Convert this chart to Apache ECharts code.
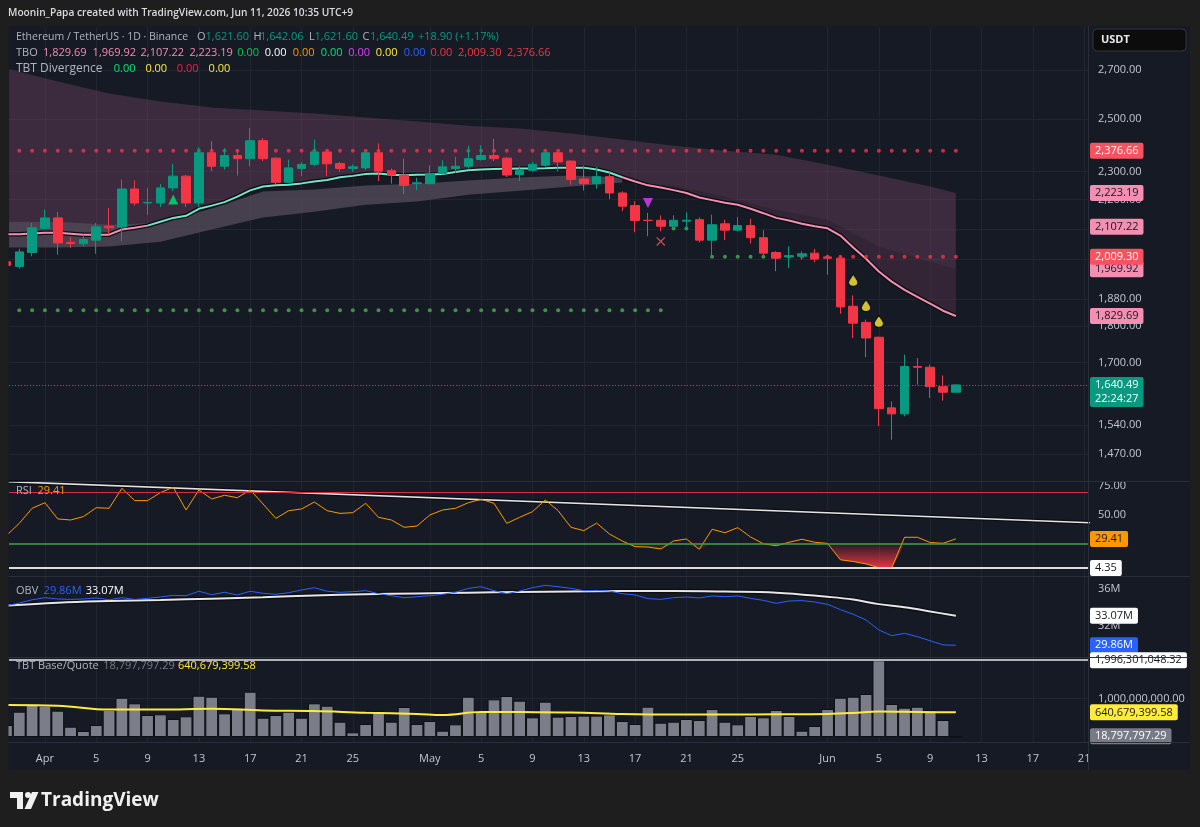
<!DOCTYPE html>
<html>
<head>
<meta charset="utf-8">
<title>ETHUSDT 1D</title>
<script src="https://cdn.jsdelivr.net/npm/echarts@6/dist/echarts.min.js"></script>
<style>
html, body { margin: 0; padding: 0; background: #1e1e1e; }
#wrap { position: relative; width: 1200px; height: 827px; background: #1e1e1e; }
#panel { position: absolute; left: 8px; top: 26px; width: 1182px; height: 744px; background: #161a25; }
#chart { position: absolute; left: 0; top: 0; width: 1200px; height: 827px; }
</style>
</head>
<body>
<div id="wrap">
  <div id="panel"></div>
  <div id="chart"></div>
</div>
<script>
// ---- data ----
// daily candles: [date, open, close, low, high]
const candles = [
  ['03-29', 1994, 1982, 1978, 1997],
  ['03-30', 1979, 2025, 1972, 2035],
  ['03-31', 2023, 2104, 2011, 2120],
  ['04-01', 2102, 2137, 2098, 2165],
  ['04-02', 2137, 2054, 2016, 2157],
  ['04-03', 2056, 2052, 2038, 2074],
  ['04-04', 2051, 2065, 2043, 2081],
  ['04-05', 2063, 2107, 2019, 2120],
  ['04-06', 2109, 2104, 2081, 2171],
  ['04-07', 2106, 2237, 2060, 2271],
  ['04-08', 2237, 2188, 2179, 2268],
  ['04-09', 2188, 2190, 2148, 2241],
  ['04-10', 2188, 2241, 2174, 2255],
  ['04-11', 2241, 2283, 2229, 2328],
  ['04-12', 2283, 2188, 2174, 2288],
  ['04-13', 2188, 2369, 2174, 2391],
  ['04-14', 2369, 2319, 2301, 2413],
  ['04-15', 2319, 2359, 2307, 2387],
  ['04-16', 2359, 2347, 2285, 2381],
  ['04-17', 2347, 2415, 2319, 2464],
  ['04-18', 2415, 2347, 2338, 2425],
  ['04-19', 2349, 2261, 2253, 2352],
  ['04-20', 2261, 2313, 2259, 2344],
  ['04-21', 2311, 2326, 2283, 2335],
  ['04-22', 2326, 2372, 2319, 2419],
  ['04-23', 2372, 2328, 2283, 2381],
  ['04-24', 2329, 2311, 2299, 2335],
  ['04-25', 2311, 2317, 2299, 2326],
  ['04-26', 2313, 2369, 2304, 2375],
  ['04-27', 2369, 2301, 2265, 2404],
  ['04-28', 2303, 2287, 2256, 2311],
  ['04-29', 2287, 2250, 2219, 2347],
  ['04-30', 2256, 2259, 2233, 2277],
  ['05-01', 2256, 2293, 2253, 2323],
  ['05-02', 2293, 2317, 2289, 2341],
  ['05-03', 2311, 2319, 2295, 2354],
  ['05-04', 2319, 2347, 2310, 2396],
  ['05-05', 2344, 2359, 2340, 2397],
  ['05-06', 2359, 2347, 2338, 2422],
  ['05-07', 2349, 2287, 2280, 2354],
  ['05-08', 2289, 2303, 2265, 2319],
  ['05-09', 2304, 2326, 2299, 2335],
  ['05-10', 2323, 2369, 2313, 2372],
  ['05-11', 2369, 2335, 2301, 2372],
  ['05-12', 2338, 2271, 2253, 2341],
  ['05-13', 2273, 2256, 2232, 2322],
  ['05-14', 2256, 2281, 2238, 2317],
  ['05-15', 2281, 2223, 2202, 2297],
  ['05-16', 2223, 2177, 2160, 2229],
  ['05-17', 2179, 2128, 2089, 2194],
  ['05-18', 2129, 2128, 2076, 2154],
  ['05-19', 2129, 2109, 2092, 2145],
  ['05-20', 2109, 2129, 2098, 2146],
  ['05-21', 2126, 2129, 2098, 2156],
  ['05-22', 2131, 2063, 2056, 2139],
  ['05-23', 2063, 2114, 2009.3, 2148],
  ['05-24', 2117, 2096, 2063, 2131],
  ['05-25', 2096, 2111, 2092, 2140],
  ['05-26', 2111, 2071, 2052, 2134],
  ['05-27', 2071, 2021, 2013, 2096],
  ['05-28', 2023, 2005, 1964, 2027],
  ['05-29', 2009, 2013, 1974, 2043],
  ['05-30', 2011, 2019, 2000, 2027],
  ['05-31', 2021, 2002, 1992, 2035],
  ['06-01', 2009, 2005, 1953, 2016],
  ['06-02', 2005, 1856, 1836, 2013],
  ['06-03', 1858, 1809, 1767, 1890],
  ['06-04', 1811, 1767, 1714, 1819],
  ['06-05', 1769, 1580, 1537, 1771],
  ['06-06', 1582, 1567, 1504, 1598],
  ['06-07', 1567, 1689, 1561, 1721],
  ['06-08', 1689, 1687, 1641, 1712],
  ['06-09', 1687, 1636, 1607, 1694],
  ['06-10', 1636, 1621.6, 1600, 1665],
  ['06-11', 1621.6, 1640.49, 1621.6, 1642.06]
];

// TBO fast line, one value per candle
const tboFast = [2082, 2082, 2085, 2087, 2087, 2084, 2081, 2081, 2081, 2098, 2104, 2111, 2124, 2137, 2144,
  2168, 2179, 2191, 2210, 2232, 2246, 2250, 2252, 2257, 2264, 2269, 2279, 2284, 2291, 2293, 2288, 2286,
  2288, 2289, 2291, 2298, 2304, 2307, 2309, 2310, 2311, 2311, 2312, 2314, 2314, 2314, 2307, 2296, 2279,
  2264, 2250, 2242, 2233, 2223, 2207, 2198, 2189, 2182, 2168, 2153, 2137, 2128, 2117, 2109, 2102, 2078,
  2039, 2003, 1963, 1932, 1907, 1886, 1866, 1845, 1829.69];

// TBO slower lines, sampled every few days (day index from Apr 1)
const tboDays    = [-3, 1, 5, 9, 13, 17, 21, 25, 29, 33, 37, 41, 45, 49, 53, 57, 61, 65, 69, 71];
const tboSlowest = [2707, 2652, 2602, 2569, 2545, 2533, 2521, 2505, 2489, 2473, 2462, 2442, 2419, 2396, 2377, 2362, 2325, 2285, 2246, 2223.19];
const tboSlow    = [2124, 2124, 2114, 2121, 2169, 2228, 2235, 2249, 2256, 2267, 2278, 2285, 2278, 2278, 2253, 2235, 2210, 2155, 2124, 2107.22];
const tboMid     = [2039, 2039, 2042, 2058, 2098, 2138, 2158, 2182, 2193, 2217, 2231, 2246, 2260, 2249, 2210, 2165, 2131, 2042, 1994, 1969.92];

// dotted support / resistance levels
const levels = [
  { price: 2376.66, from: '03-30', to: '06-11', color: '#f23645' },
  { price: 1846,    from: '03-30', to: '05-19', color: '#4caf50' },
  { price: 2009.30, from: '05-23', to: '05-27', color: '#4caf50' },
  { price: 2009.30, from: '05-28', to: '06-11', color: '#f23645' },
  { price: 2101,    from: '05-20', to: '05-21', color: '#4caf50' }
];

const markers = [
  { date: '04-11', price: 2200, kind: 'buy' },
  { date: '05-18', price: 2188, kind: 'sell' },
  { date: '05-19', price: 2059, kind: 'cross' },
  { date: '06-03', price: 1936, kind: 'drop' },
  { date: '06-04', price: 1860, kind: 'drop' },
  { date: '06-05', price: 1814, kind: 'drop' }
];

const rsi = [32.3, 42.8, 55.8, 60.6, 46.6, 45.7, 48.6, 56.3, 55.8, 73.0, 62.4, 62.4, 69.3, 73.9, 54.3, 71.6,
  63.8, 67.0, 64.9, 71.6, 59.5, 47.1, 53.7, 55.2, 61.2, 53.7, 51.4, 52.0, 60.1, 48.0, 45.7, 39.4, 40.5,
  50.0, 54.3, 55.8, 60.6, 63.5, 60.1, 42.8, 48.0, 52.9, 62.9, 53.7, 39.4, 36.5, 43.0, 33.6, 27.6, 22.7,
  22.4, 20.7, 27.6, 29.3, 20.4, 37.7, 34.7, 39.1, 31.0, 25.2, 23.5, 26.5, 29.1, 26.5, 25.5, 11.4, 9.9,
  7.8, 4.6, 4.4, 30.8, 30.8, 26.3, 25.6, 29.41];
const rsiTrend = [[-3, 78.8], [82, 43.15]];
const rsiHigh = 70, rsiLow = 25, rsiFloor = 4.35;

// OBV in millions
const obv = [34.18, 34.47, 34.83, 35.05, 34.91, 34.87, 34.91, 35.02, 34.83, 35.05, 34.87, 34.98, 35.13,
  35.31, 35.27, 35.75, 35.38, 35.64, 35.35, 35.75, 35.53, 35.42, 35.6, 35.89, 36.14, 35.75, 35.64, 35.71,
  35.82, 35.49, 35.27, 35.05, 35.16, 35.27, 35.42, 35.64, 36.07, 36.25, 35.82, 35.49, 35.78, 36.14, 36.4,
  36.25, 36.07, 35.82, 35.85, 35.78, 35.49, 35.35, 34.95, 34.87, 35.05, 35.13, 35.02, 35.24, 35.16, 35.24,
  34.98, 34.76, 34.44, 34.69, 34.73, 34.58, 34.33, 33.75, 33.24, 32.62, 31.53, 30.91, 31.16, 30.8, 30.35,
  29.9, 29.86];
const obvMaDays = [-3, 1, 5, 9, 13, 17, 21, 25, 29, 33, 37, 41, 45, 49, 53, 57, 61, 63, 65, 67, 69, 71];
const obvMa     = [34.18, 34.5, 34.68, 34.8, 34.95, 35.1, 35.3, 35.42, 35.52, 35.6, 35.68, 35.74, 35.78, 35.78,
  35.72, 35.6, 35.15, 34.85, 34.35, 34.0, 33.55, 33.07];

// TBT base/quote volume
const volume = [312e6, 658e6, 832e6, 814e6, 684e6, 268e6, 156e6, 312e6, 702e6, 1022e6, 876e6, 572e6, 590e6,
  468e6, 538e6, 1074e6, 1048e6, 616e6, 762e6, 1178e6, 502e6, 572e6, 658e6, 502e6, 876e6, 814e6, 398e6,
  122e6, 338e6, 676e6, 398e6, 780e6, 338e6, 416e6, 164e6, 330e6, 1048e6, 676e6, 980e6, 1066e6, 944e6,
  512e6, 918e6, 530e6, 546e6, 556e6, 556e6, 590e6, 416e6, 338e6, 788e6, 372e6, 398e6, 468e6, 442e6,
  728e6, 398e6, 330e6, 546e6, 512e6, 702e6, 546e6, 164e6, 286e6, 728e6, 1022e6, 1048e6, 1118e6,
  1996301048.32, 858e6, 762e6, 788e6, 702e6, 442e6, 18797797.29];
const volMaDays = [-3, 1, 5, 9, 13, 17, 21, 25, 29, 31, 34, 37, 41, 45, 49, 53, 57, 61, 63, 65, 67, 69, 71];
const volMa     = [832e6, 815e6, 712e6, 712e6, 735e6, 690e6, 676e6, 630e6, 600e6, 572e6, 650e6, 648e6, 640e6,
  600e6, 585e6, 585e6, 590e6, 600e6, 625e6, 665e6, 655e6, 645e6, 640679399.58];

const tickDays   = [0, 4, 8, 12, 16, 20, 24, 30, 34, 38, 42, 46, 50, 54, 61, 65, 69, 73, 77, 81];
const tickLabels = ['Apr', '5', '9', '13', '17', '21', '25', 'May', '5', '9', '13', '17', '21', '25', 'Jun', '5', '9', '13', '17', '21'];
const priceTicks = [1470, 1540, 1700, 1800, 1880, 2000, 2100, 2200, 2300, 2500, 2700];

// ---- styling ----
const FONT = '"Open Sans", Roboto, sans-serif';
const GRID = '#212531';
const TXT = '#c3c6ce';
const LBL = '#b2b5be';
const UP = '#089981', DOWN = '#f23645';
const PINK = '#f48fb1', TEAL = '#74e3c6';
const DARK = '#131722';
const NOLINE = 'rgba(0,0,0,0)';

const DAY0 = Date.UTC(2026, 3, 1);
const dayOf = s => Math.round((Date.UTC(2026, +s.slice(0, 2) - 1, +s.slice(3, 5)) - DAY0) / 864e5);
const days = candles.map(c => dayOf(c[0]));
const fmt = (v, n = 2) => v.toLocaleString('en-US', { minimumFractionDigits: n, maximumFractionDigits: n });
const zip = (xs, ys) => xs.map((x, i) => [x, ys[i]]);

const chart = echarts.init(document.getElementById('chart'));

const panes = [
  { top: 27, height: 454 },
  { top: 482, height: 94 },
  { top: 577, height: 80 },
  { top: 658, height: 84 }
];

const tag = (value, text, bg, fg, extra) => ({
  yAxis: value,
  lineStyle: { color: NOLINE, width: 0 },
  label: Object.assign({
    show: true, position: 'end', distance: 2, formatter: text,
    backgroundColor: bg, color: fg, padding: [2, 5, 2, 5],
    fontSize: 11, lineHeight: 12, fontFamily: FONT, borderRadius: 2
  }, extra || {})
});

// fill between two [day, value] polylines
function band(upper, lower, fill, axis, z) {
  return {
    type: 'custom', xAxisIndex: axis || 0, yAxisIndex: axis || 0, clip: true, silent: true, z: z || 1,
    data: [[0, upper[0][1]]],
    renderItem: (params, api) => ({
      type: 'polygon',
      shape: { points: upper.map(p => api.coord(p)).concat(lower.map(p => api.coord(p)).reverse()) },
      style: { fill: fill }
    })
  };
}

const fastPts = zip(days, tboFast);
const s4 = zip(tboDays, tboSlowest);
const s3 = zip(tboDays, tboSlow);
const s2 = zip(tboDays, tboMid);
const lightIdx = tboDays.filter(d => d <= 45).length;

const levelSeries = levels.map(l => ({
  type: 'scatter', xAxisIndex: 0, yAxisIndex: 0, symbolSize: 4, z: 2, silent: true,
  itemStyle: { color: l.color },
  data: days.filter(d => d >= dayOf(l.from) && d <= dayOf(l.to)).map(d => [d, l.price])
}));

const DROP = 'path://M5,0 C6.5,3 10,6.5 10,9.5 C10,12.3 7.8,14 5,14 C2.2,14 0,12.3 0,9.5 C0,6.5 3.5,3 5,0 Z';
const markerStyle = {
  buy:   { symbol: 'triangle', symbolSize: 10, itemStyle: { color: '#00e676' } },
  sell:  { symbol: 'triangle', symbolSize: 10, symbolRotate: 180, itemStyle: { color: '#e040fb' } },
  cross: { symbol: 'path://M1,0 L5,4 L9,0 L10,1 L6,5 L10,9 L9,10 L5,6 L1,10 L0,9 L4,5 L0,1 Z', symbolSize: 9, itemStyle: { color: '#ff5a5f' } },
  drop:  { symbol: DROP, symbolSize: [9, 12], itemStyle: { color: '#ffeb3b', borderColor: '#000', borderWidth: 1 } }
};

const last = candles[candles.length - 1];
const rsiFillTop = days.map(d => [d, rsiLow]);
const rsiFillBottom = days.map((d, i) => [d, Math.min(rsi[i], rsiLow)]);

const option = {
  animation: false,
  backgroundColor: 'transparent',
  textStyle: { fontFamily: FONT },
  grid: panes.map(p => ({ left: 9, width: 1079, top: p.top, height: p.height })),
  xAxis: panes.map((p, i) => ({
    type: 'value', gridIndex: i, min: -2.8, max: 81.3,
    axisLine: { show: false },
    axisTick: { show: false, customValues: tickDays },
    splitLine: { show: true, lineStyle: { color: GRID, width: 1 } },
    axisLabel: i === 3
      ? { show: true, customValues: tickDays, color: TXT, fontSize: 11, margin: 11,
          formatter: v => tickLabels[tickDays.indexOf(v)] }
      : { show: false, customValues: tickDays }
  })),
  yAxis: [
    { type: 'log', logBase: 10, gridIndex: 0, position: 'right', min: 1409, max: 2891,
      axisLine: { show: false }, axisTick: { show: false, customValues: priceTicks },
      splitLine: { show: true, lineStyle: { color: GRID } },
      axisLabel: { customValues: priceTicks, formatter: v => fmt(v), color: TXT, fontSize: 11, margin: 10 } },
    { type: 'value', gridIndex: 1, position: 'right', min: -2.59, max: 78.45,
      axisLine: { show: false }, axisTick: { show: false, customValues: [0, 25, 50, 75] },
      splitLine: { show: false },
      axisLabel: { customValues: [0, 25, 50, 75], formatter: v => fmt(v), color: TXT, fontSize: 11, margin: 10 } },
    { type: 'value', gridIndex: 2, position: 'right', min: 28.58, max: 37.31,
      axisLine: { show: false }, axisTick: { show: false, customValues: [32, 36] },
      splitLine: { show: false },
      axisLabel: { customValues: [32, 36], formatter: v => v + 'M', color: TXT, fontSize: 11, margin: 10 } },
    { type: 'value', gridIndex: 3, position: 'right', min: -0.13e9, max: 2.0546e9,
      axisLine: { show: false }, axisTick: { show: false, customValues: [1e9] },
      splitLine: { show: true, lineStyle: { color: GRID } },
      axisLabel: { customValues: [1e9], formatter: v => fmt(v), color: TXT, fontSize: 11, margin: 10 } }
  ],
  visualMap: [{
    type: 'piecewise', show: false, seriesIndex: 4, dimension: 0,
    pieces: [
      { lt: 8, color: PINK },
      { gte: 8, lt: 45, color: TEAL },
      { gte: 45, color: PINK }
    ]
  }],
  series: [
    // 0: cloud between the slowest TBO line and the fast line
    band(s4, fastPts, 'rgba(131,75,108,0.35)'),
    // 1: light band between slow and mid while the trend is up
    band(s3.slice(0, lightIdx), s2.slice(0, lightIdx), 'rgba(80,72,88,0.82)'),
    // 2: darker layer between mid and fast line on the right side
    band(s2.slice(lightIdx - 1), fastPts.filter(p => p[0] >= 45), 'rgba(10,10,20,0.16)'),
    // 3: fast line outline
    { type: 'line', xAxisIndex: 0, yAxisIndex: 0, data: fastPts, showSymbol: false, silent: true, z: 2,
      lineStyle: { color: '#0b0d13', width: 4.5 } },
    // 4: fast line (teal while bullish, pink while bearish)
    { type: 'line', xAxisIndex: 0, yAxisIndex: 0, data: fastPts, showSymbol: false, silent: true, z: 2,
      lineStyle: { width: 2 } },
    // 5: candles
    { type: 'candlestick', xAxisIndex: 0, yAxisIndex: 0, z: 3, barWidth: 9, clip: true,
      encode: { x: 0, y: [1, 2, 3, 4] },
      itemStyle: { color: UP, color0: DOWN, borderColor: UP, borderColor0: DOWN, borderWidth: 1 },
      data: candles.map((c, i) => [days[i], c[1], c[2], c[3], c[4]]),
      markLine: {
        silent: true, symbol: 'none', animation: false,
        data: [
          Object.assign(tag(last[2], fmt(last[2]) + '\n22:24:27', UP, '#ffffff',
            { lineHeight: 14, padding: [1, 5, 1, 5], offset: [0, 7] }),
            { lineStyle: { color: UP, type: [1, 2], width: 1 } }),
          tag(2376.66, fmt(2376.66), '#f7525f', '#ffffff'),
          tag(tboSlowest[tboSlowest.length - 1], fmt(tboSlowest[tboSlowest.length - 1]), PINK, DARK),
          tag(tboSlow[tboSlow.length - 1], fmt(tboSlow[tboSlow.length - 1]), PINK, DARK),
          tag(tboMid[tboMid.length - 1], fmt(tboMid[tboMid.length - 1]), PINK, DARK),
          tag(2009.30, fmt(2009.30), '#f7525f', '#ffffff'),
          tag(tboFast[tboFast.length - 1], fmt(tboFast[tboFast.length - 1]), PINK, DARK)
        ]
      } },
    // 6: signal markers
    { type: 'scatter', xAxisIndex: 0, yAxisIndex: 0, z: 4, silent: true,
      data: markers.map(m => Object.assign({ value: [dayOf(m.date), m.price] }, markerStyle[m.kind])) },
    // 7: RSI
    { type: 'line', xAxisIndex: 1, yAxisIndex: 1, data: zip(days, rsi), showSymbol: false, silent: true, z: 3,
      lineStyle: { color: '#ff9800', width: 1 },
      markLine: {
        silent: true, symbol: 'none', animation: false,
        data: [
          { yAxis: rsiHigh, lineStyle: { color: '#d0303f', width: 1, type: 'solid' }, label: { show: false } },
          { yAxis: rsiLow, lineStyle: { color: '#43a047', width: 1.5, type: 'solid' }, label: { show: false } },
          Object.assign(tag(rsiFloor, fmt(rsiFloor), '#ffffff', DARK),
            { lineStyle: { color: '#dcdcdc', width: 2, type: 'solid' } }),
          tag(rsi[rsi.length - 1], fmt(rsi[rsi.length - 1]), '#ff9800', DARK)
        ]
      } },
    // 8: oversold fill between the low band and RSI
    Object.assign(band(rsiFillTop, rsiFillBottom, new echarts.graphic.LinearGradient(0, 0, 0, 1, [
      { offset: 0, color: 'rgba(242,54,69,0.08)' },
      { offset: 1, color: 'rgba(242,54,69,0.95)' }
    ]), 1), { z: 2 }),
    // 9, 10: RSI trend line
    { type: 'line', xAxisIndex: 1, yAxisIndex: 1, data: rsiTrend, showSymbol: false, silent: true, z: 2,
      lineStyle: { color: '#0b0d13', width: 4 } },
    { type: 'line', xAxisIndex: 1, yAxisIndex: 1, data: rsiTrend, showSymbol: false, silent: true, z: 2,
      lineStyle: { color: '#e3e3e3', width: 1.6 } },
    // 11: OBV
    { type: 'line', xAxisIndex: 2, yAxisIndex: 2, data: zip(days, obv), showSymbol: false, silent: true, z: 3,
      lineStyle: { color: '#2962ff', width: 1 },
      markLine: {
        silent: true, symbol: 'none', animation: false,
        data: [
          tag(obvMa[obvMa.length - 1], fmt(obvMa[obvMa.length - 1]) + 'M', '#ffffff', DARK),
          tag(obv[obv.length - 1], fmt(obv[obv.length - 1]) + 'M', '#2962ff', '#ffffff')
        ]
      } },
    // 12, 13: OBV average
    { type: 'line', xAxisIndex: 2, yAxisIndex: 2, data: zip(obvMaDays, obvMa), smooth: 0.4, showSymbol: false, silent: true, z: 2,
      lineStyle: { color: '#0b0d13', width: 4.5 } },
    { type: 'line', xAxisIndex: 2, yAxisIndex: 2, data: zip(obvMaDays, obvMa), smooth: 0.4, showSymbol: false, silent: true, z: 2,
      lineStyle: { color: '#e6e6e6', width: 2 } },
    // 14: volume
    { type: 'bar', xAxisIndex: 3, yAxisIndex: 3, data: zip(days, volume), barWidth: 12.8, silent: true, z: 2, clip: true,
      itemStyle: { color: '#7b7e89', borderColor: '#0d0f15', borderWidth: 1 },
      markLine: {
        silent: true, symbol: 'none', animation: false,
        data: [
          Object.assign(tag(volume[68], fmt(volume[68]), '#ffffff', DARK),
            { lineStyle: { color: '#e6e6e6', width: 1.5, type: 'solid' } }),
          tag(volMa[volMa.length - 1], fmt(volMa[volMa.length - 1]), '#ffeb3b', DARK),
          tag(volume[volume.length - 1], fmt(volume[volume.length - 1]), '#787b86', '#ffffff')
        ]
      } },
    // 15: volume average
    { type: 'line', xAxisIndex: 3, yAxisIndex: 3, data: zip(volMaDays, volMa), smooth: 0.4, showSymbol: false, silent: true, z: 3,
      lineStyle: { color: '#ffeb3b', width: 2 } }
  ].concat(levelSeries)
};

// ---- texts, legends and frame pieces ----
const txt = (x, y, text, color, font) => ({
  type: 'text', x: x, y: y, silent: true, z: 100,
  style: { text: text, fill: color, font: font || ('11px ' + FONT), verticalAlign: 'middle' }
});
const hline = (y, x1, x2, color) => ({ type: 'line', silent: true, z: 50,
  shape: { x1: x1, y1: y, x2: x2, y2: y }, style: { stroke: color, lineWidth: 1 } });

option.graphic = [
  // mask for marks that overflow the left edge of the panes
  { type: 'rect', silent: true, z: 90, shape: { x: 0, y: 26, width: 8.5, height: 744 }, style: { fill: '#1e1e1e' } },
  txt(8, 13, 'Moonin_Papa created with TradingView.com, Jun 11, 2026 10:35 UTC+9', '#d9dbe0', '600 10.2px ' + FONT),
  txt(16, 37, 'Ethereum / TetherUS · 1D · Binance', LBL, '10.5px ' + FONT),
  txt(197, 37, 'O', LBL), txt(205.5, 37, fmt(last[1]), UP),
  txt(253.5, 37, 'H', LBL), txt(260, 37, fmt(last[4]), UP),
  txt(309, 37, 'L', LBL), txt(314.5, 37, fmt(last[3]), UP),
  txt(362.5, 37, 'C', LBL), txt(370, 37, fmt(last[2]), UP),
  txt(418, 37, '+18.90 (+1.17%)', UP),
  txt(16, 53, 'TBO', LBL),
  txt(43, 53, fmt(tboFast[tboFast.length - 1]), PINK),
  txt(92.6, 53, fmt(tboMid[tboMid.length - 1]), PINK),
  txt(140.5, 53, fmt(tboSlow[tboSlow.length - 1]), PINK),
  txt(189.4, 53, fmt(tboSlowest[tboSlowest.length - 1]), PINK),
  txt(237.3, 53, '0.00', '#00c853'),
  txt(264.8, 53, '0.00', '#ffffff'),
  txt(292.8, 53, '0.00', '#ff9800'),
  txt(320.7, 53, '0.00', '#00e676'),
  txt(348.3, 53, '0.00', '#e040fb'),
  txt(375.8, 53, '0.00', '#ffeb3b'),
  txt(403.8, 53, '0.00', '#2962ff'),
  txt(430.5, 53, '0.00', '#f23645'),
  txt(458, 53, fmt(2009.30), '#f23645'),
  txt(507, 53, fmt(2376.66), '#f23645'),
  txt(16, 69, 'TBT Divergence', LBL, '12px ' + FONT),
  txt(113.7, 69, '0.00', '#00e676'),
  txt(145.4, 69, '0.00', '#ffeb3b'),
  txt(176.8, 69, '0.00', '#ff1744'),
  txt(208.6, 69, '0.00', '#ffeb3b'),
  txt(16, 491, 'RSI', LBL), txt(37.5, 491, fmt(rsi[rsi.length - 1]), '#ff9800'),
  txt(16, 591, 'OBV', LBL), txt(43.6, 591, fmt(obv[obv.length - 1]) + 'M', '#2962ff'),
  txt(85.7, 591, fmt(obvMa[obvMa.length - 1]) + 'M', '#ffffff'),
  txt(16, 666, 'TBT Base/Quote', LBL), txt(103.3, 666, fmt(volume[volume.length - 1]), '#787b86'),
  txt(178, 666, fmt(volMa[volMa.length - 1]), '#ffeb3b'),
  // USDT box
  { type: 'rect', silent: true, z: 60, shape: { x: 1093, y: 29, width: 93, height: 22, r: 4 },
    style: { fill: '#0c0c0c', stroke: '#32353f', lineWidth: 1 } },
  txt(1101, 40, 'USDT', '#e9eaed', 'bold 11px ' + FONT),
  // pane separators
  hline(481.5, 8, 1190, '#2a2e39'),
  hline(576.5, 8, 1190, '#2a2e39'),
  hline(657.5, 8, 1190, '#2a2e39'),
  hline(742.5, 8, 1190, '#2a2e39'),
  { type: 'line', silent: true, z: 50, shape: { x1: 1088.5, y1: 26, x2: 1088.5, y2: 770 },
    style: { stroke: '#2a2e39', lineWidth: 1 } },
  // TradingView logo
  { type: 'polygon', silent: true, z: 60, shape: { points: [[10, 792], [23, 792], [23, 809], [17, 809], [17, 798], [10, 798]] },
    style: { fill: '#f0f0f0' } },
  { type: 'circle', silent: true, z: 60, shape: { cx: 28, cy: 795, r: 3 }, style: { fill: '#f0f0f0' } },
  { type: 'polygon', silent: true, z: 60, shape: { points: [[32, 792], [38.5, 792], [31, 809], [24.5, 809]] },
    style: { fill: '#f0f0f0' } },
  txt(41, 800.5, 'TradingView', '#f0f0f0', 'bold 19px ' + FONT)
];

chart.setOption(option);
</script>
</body>
</html>
